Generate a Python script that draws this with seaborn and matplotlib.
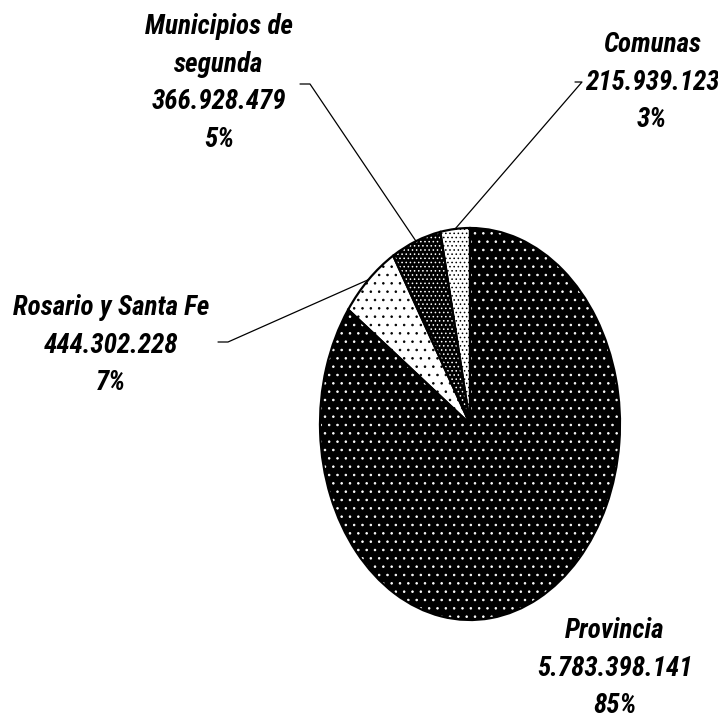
import numpy as np
import matplotlib
matplotlib.use("Agg")
import matplotlib.pyplot as plt
from matplotlib.lines import Line2D
import seaborn as sns

# data
categories = ["Provincia", "Rosario y Santa Fe", "Municipios de\nsegunda", "Comunas"]
amounts = [5783398141, 444302228, 366928479, 215939123]

# look of each slice: face, dot colour, dot density
faces = ["black", "white", "black", "white"]
dot_colors = ["white", "black", "white", "black"]
hatches = ["..", "..", "....", "...."]

# label block centres and leader elbows (figure pixels from top-left)
label_pos = [(615, 668), (111, 345), (219, 83), (652, 82)]
elbows = [None, (228, 342), (310, 84), (582, 82)]
ticks = [None, (218, 342), (300, 84), (575, 82)]

sns.set_theme(style="white")
plt.rcParams["font.family"] = ["Roboto Condensed", "Liberation Sans Narrow", "DejaVu Sans"]
plt.rcParams["font.stretch"] = "condensed"
plt.rcParams["hatch.linewidth"] = 0.6

W = H = 718
fig = plt.figure(figsize=(W / 100, H / 100), dpi=100)
fig.patch.set_facecolor("white")

# elliptical pie: centre (470, 424), rx 150, ry 196
cx, cy, rx, ry = 470, 424, 150, 196
ax = fig.add_axes([(cx - rx) / W, (H - cy - ry) / H, 2 * rx / W, 2 * ry / H])

wedges, _ = ax.pie(amounts, startangle=90, counterclock=False, radius=1,
                   wedgeprops=dict(linewidth=0))
for w, fc, dc, h in zip(wedges, faces, dot_colors, hatches):
    w.set_facecolor(fc)
    w.set_edgecolor(dc)
    w.set_hatch(h)

# outlines on top
ax.pie(amounts, startangle=90, counterclock=False, radius=1,
       wedgeprops=dict(fill=False, edgecolor="black", linewidth=1.6))

ax.set_aspect("auto")
ax.set_xlim(-1, 1)
ax.set_ylim(-1, 1)
ax.axis("off")

total = sum(amounts)
fig.canvas.draw()
for i, (name, v) in enumerate(zip(categories, amounts)):
    pct = round(100 * v / total)
    txt = f"{name}\n{v:,}".replace(",", ".") + f"\n{pct}%"
    lx, ly = label_pos[i]
    fig.text(lx / W, 1 - ly / H, txt, ha="center", va="center",
             fontsize=19.5, fontweight="bold", fontstyle="italic",
             fontstretch="condensed", linespacing=1.5, color="black")
    if elbows[i] is None:
        continue
    w = wedges[i]
    mid = np.deg2rad((w.theta1 + w.theta2) / 2)
    px, py = ax.transData.transform((np.cos(mid), np.sin(mid)))
    ex, ey = elbows[i]
    tx, ty = ticks[i]
    xs = [px, ex, tx]
    ys = [py, H - ey, H - ty]
    fig.add_artist(Line2D([x / W for x in xs], [y / H for y in ys],
                          transform=fig.transFigure, color="black", lw=0.9))

fig.savefig("out.png", dpi=100, facecolor="white")
